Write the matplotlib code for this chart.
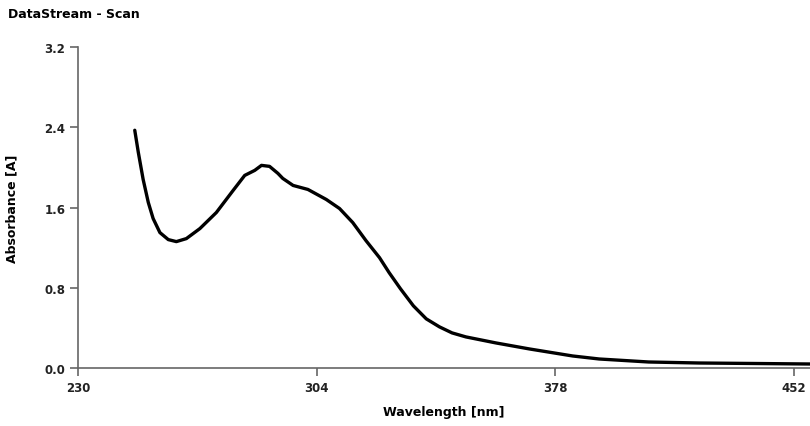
import matplotlib
matplotlib.use("Agg")
import matplotlib.pyplot as plt

wavelength = [247.6, 248.7, 250.2, 251.8, 253.3, 255.4, 258.0, 260.5, 263.6, 267.8, 272.9,
              278.1, 281.7, 284.8, 286.9, 289.4, 292.0, 293.5, 296.7, 301.3, 307.0, 311.1,
              315.2, 319.3, 323.5, 326.5, 330.0, 334.0, 338.0, 342.1, 346.0, 350.3, 359.6,
              370.0, 383.4, 391.6, 407.0, 422.6, 440.0, 457.0]
absorbance = [2.37, 2.15, 1.88, 1.65, 1.49, 1.35, 1.28, 1.26, 1.29, 1.39, 1.55,
              1.77, 1.92, 1.97, 2.02, 2.01, 1.94, 1.89, 1.82, 1.78, 1.68, 1.59,
              1.45, 1.27, 1.10, 0.95, 0.79, 0.62, 0.49, 0.41, 0.35, 0.31, 0.25,
              0.19, 0.12, 0.09, 0.06, 0.05, 0.045, 0.04]
xticks = [230, 304, 378, 452]
yticks = [0.0, 0.8, 1.6, 2.4, 3.2]

fig = plt.figure(figsize=(8.1, 4.27), dpi=100)
ax = fig.add_axes([0.0963, 0.1358, 0.9037, 0.7518])
ax.plot(wavelength, absorbance, color="black", lw=2.4, solid_capstyle="round",
        solid_joinstyle="round")
ax.set_xlim(230, 457)
ax.set_ylim(0, 3.2)
ax.set_xticks(xticks)
ax.set_xticklabels([str(t) for t in xticks])
ax.set_yticks(yticks)
ax.set_yticklabels([f"{t:.1f}" for t in yticks])
for s in ["top", "right"]:
    ax.spines[s].set_visible(False)
for s in ["left", "bottom"]:
    ax.spines[s].set_color("#666666")
    ax.spines[s].set_linewidth(1.2)
ax.tick_params(direction="out", length=6, width=1.2, color="#666666",
               labelsize=8.5, labelcolor="#222222", pad=3)
for lbl in ax.get_xticklabels() + ax.get_yticklabels():
    lbl.set_fontweight("bold")
ax.set_xlabel("Wavelength [nm]", fontsize=9, fontweight="bold", labelpad=8)
ax.set_ylabel("Absorbance [A]", fontsize=9, fontweight="bold")
ax.yaxis.set_label_coords(-0.082, 0.5)
fig.text(0.01, 0.965, "DataStream - Scan", fontsize=9, fontweight="bold", va="center", ha="left")
fig.savefig("out.png", dpi=100)
